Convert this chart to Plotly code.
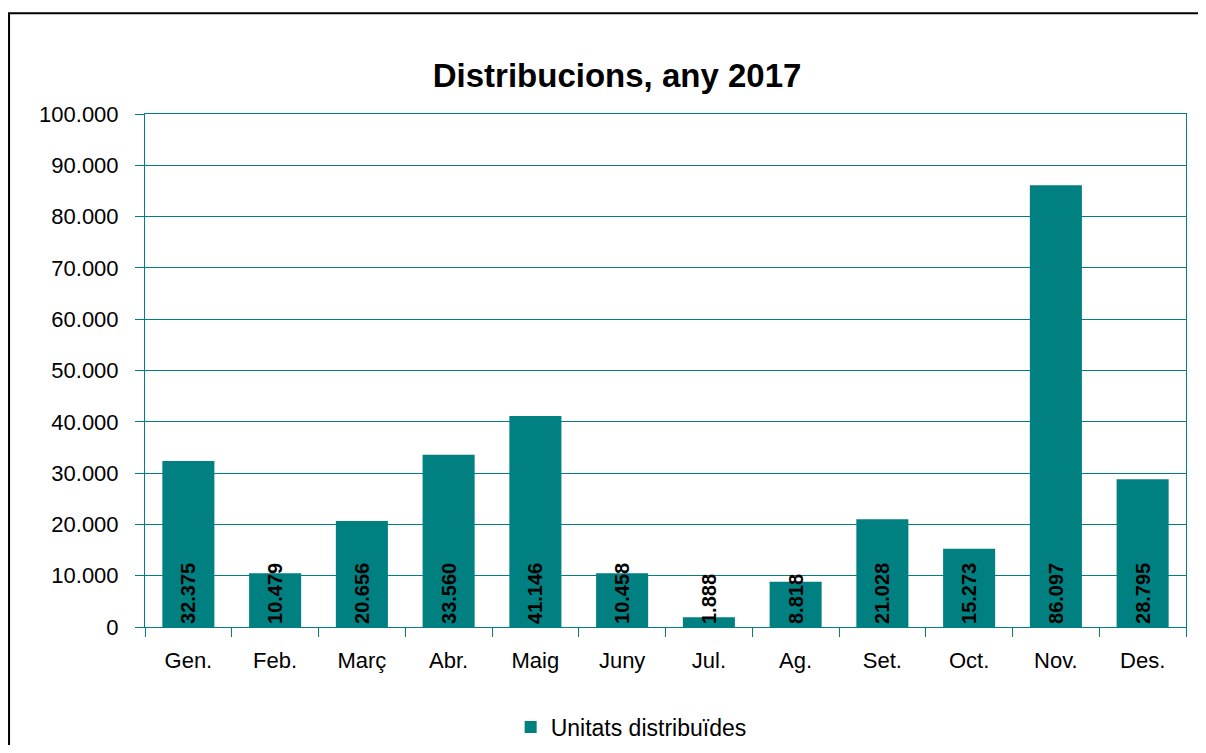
import plotly.graph_objects as go

months = ["Gen.", "Feb.", "Març", "Abr.", "Maig", "Juny", "Jul.", "Ag.", "Set.", "Oct.", "Nov.", "Des."]
units = [32375, 10479, 20656, 33560, 41146, 10458, 1888, 8818, 21028, 15273, 86097, 28795]
series_name = "Unitats distribuïdes"
title_text = "Distribucions, any 2017"
y_ticks = [0, 10000, 20000, 30000, 40000, 50000, 60000, 70000, 80000, 90000, 100000]

TEAL = "#008080"
FONT = "Liberation Sans, Arial, sans-serif"

fig = go.Figure()
fig.add_trace(go.Bar(
    x=months, y=units, name=series_name, showlegend=True,
    marker=dict(color=TEAL, line=dict(width=0)),
    texttemplate="%{y:,d}", textposition="inside", insidetextanchor="start",
    textangle=-90, constraintext="none",
    insidetextfont=dict(family=FONT, size=20, color="black", weight="bold"),
))

fig.update_layout(
    width=1190, height=737,
    margin=dict(l=137, r=12, t=106, b=118, autoexpand=False),
    paper_bgcolor="white", plot_bgcolor="white",
    separators=",.",
    bargap=0.4,
    font=dict(family=FONT, size=22, color="black"),
    title=dict(text=title_text, x=0.5118, xanchor="center", y=0.9091, yanchor="middle",
               yref="container", font=dict(family=FONT, size=33, color="black", weight="bold")),
    legend=dict(orientation="h", x=0.467, xanchor="center", y=0.0244, yanchor="middle",
                yref="container", font=dict(family=FONT, size=23, color="black")),
    shapes=[dict(type="rect", xref="paper", yref="paper",
                 x0=-0.1306, x1=1.2, y0=-0.5, y1=1.1963,
                 line=dict(color="black", width=2), fillcolor="rgba(0,0,0,0)", layer="below")],
)

fig.update_xaxes(
    showline=True, linecolor=TEAL, linewidth=1, mirror=True,
    ticks="outside", tickson="boundaries", ticklen=9, tickcolor=TEAL,
    showgrid=False, ticklabelstandoff=14,
    tickfont=dict(family=FONT, size=22, color="black"),
)
fig.update_yaxes(
    range=[0, 100000], tickvals=y_ticks, tickformat=",d",
    showline=True, linecolor=TEAL, linewidth=1, mirror=True,
    ticks="outside", ticklen=9, tickcolor=TEAL,
    showgrid=True, gridcolor=TEAL, gridwidth=1, zeroline=False,
    ticklabelstandoff=12,
    tickfont=dict(family=FONT, size=22, color="black"),
)

fig.write_html("out.html")
